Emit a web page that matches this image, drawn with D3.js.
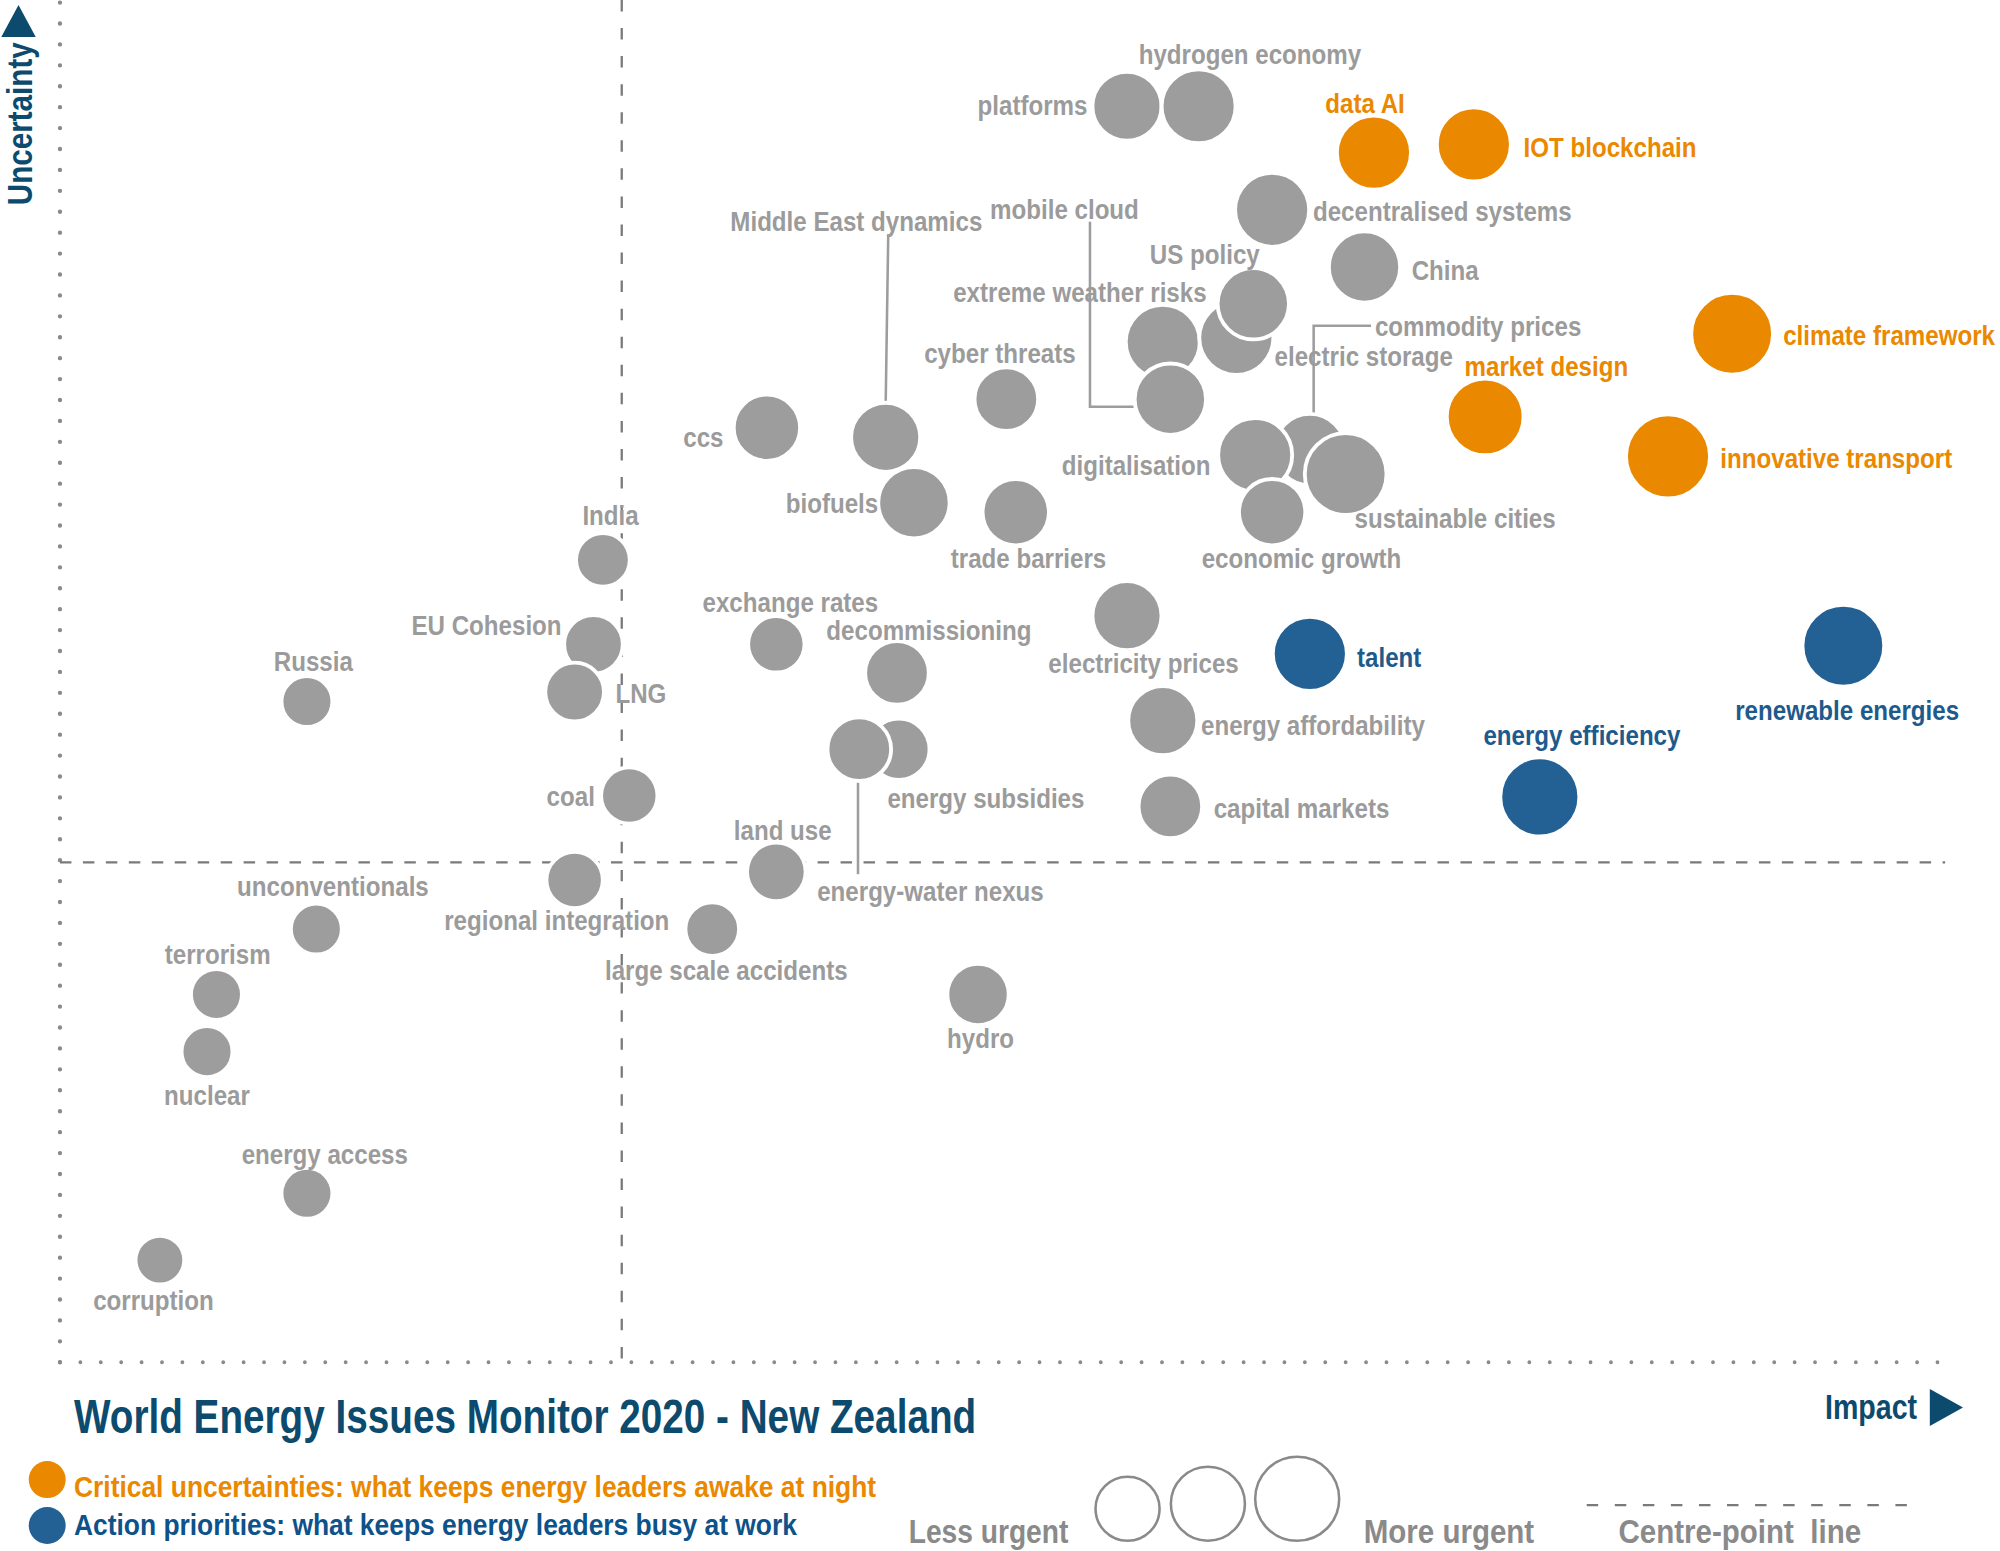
<!DOCTYPE html>
<html>
<head>
<meta charset="utf-8">
<script src="https://cdn.jsdelivr.net/npm/d3@7"></script>
<style>
  body { margin: 0; background: #fff; }
  svg { display: block; }
  text { font-family: "Liberation Sans", Arial, sans-serif; font-weight: bold; }
</style>
</head>
<body>
<div id="chart"></div>
<script>
// issues in drawing order (later ones sit on top)
const issues = [
  "corruption", "energy access", "nuclear", "terrorism", "unconventionals", "hydro",
  "large scale accidents", "regional integration", "land use", "coal", "capital markets",
  "energy subsidies", "energy-water nexus", "energy affordability", "Russia", "EU Cohesion",
  "LNG", "exchange rates", "decommissioning", "electricity prices", "India", "ccs",
  "Middle East dynamics", "biofuels", "trade barriers", "cyber threats", "commodity prices",
  "digitalisation", "sustainable cities", "economic growth", "extreme weather risks",
  "mobile cloud", "electric storage", "US policy", "China", "decentralised systems",
  "platforms", "hydrogen economy", "data AI", "IOT blockchain", "climate framework",
  "market design", "innovative transport", "talent", "renewable energies", "energy efficiency"
]
const impact = [
  5.3, 13.1, 7.8, 8.3, 13.6, 48.7,
  34.6, 27.3, 38.0, 30.2, 58.9,
  44.5, 42.4, 58.5, 13.1, 28.3,
  27.3, 38.0, 44.4, 56.6, 28.8, 37.5,
  43.8, 45.3, 50.7, 50.2, 66.3,
  63.4, 68.2, 64.3, 58.5,
  58.9, 62.4, 63.3, 69.2, 64.3,
  56.6, 60.4, 69.7, 75.0, 88.7,
  75.6, 85.3, 66.3, 94.6, 78.5
]
const uncertainty = [
  7.5, 12.4, 22.8, 27.0, 31.8, 27.0,
  31.8, 35.4, 36.0, 41.6, 40.8,
  45.0, 45.0, 47.1, 48.5, 52.7,
  49.2, 52.7, 50.6, 54.8, 58.9, 68.6,
  67.9, 63.1, 62.4, 70.7, 67.0,
  66.6, 65.2, 62.4, 74.9,
  70.7, 75.2, 77.7, 80.4, 84.6,
  92.2, 92.2, 88.8, 89.4, 75.5,
  69.4, 66.5, 52.0, 52.6, 41.5
]
const urgency = [
  1.6, 2.1, 2.1, 2.1, 2.1, 4.4,
  2.7, 3.3, 3.8, 3.3, 4.9,
  4.4, 4.9, 6.1, 2.1, 3.8,
  3.8, 3.3, 4.9, 6.1, 2.7, 5.5,
  6.1, 6.6, 5.5, 4.9, 6.6,
  7.2, 8.9, 5.5, 7.2,
  6.6, 7.2, 6.6, 6.6, 7.2,
  6.1, 7.2, 7.2, 7.2, 8.9,
  7.8, 9.4, 7.2, 8.9, 8.3
]
// u = critical uncertainty, p = action priority, n = other issue
const kind = [
  "n", "n", "n", "n", "n", "n",
  "n", "n", "n", "n", "n",
  "n", "n", "n", "n", "n",
  "n", "n", "n", "n", "n", "n",
  "n", "n", "n", "n", "n",
  "n", "n", "n", "n",
  "n", "n", "n", "n", "n",
  "n", "n", "u", "u", "u",
  "u", "u", "p", "p", "p"
]
const centrePoint = { impact: 29.8, uncertainty: 36.7 }

const legendItems = [
  { kind: "u", text: "Critical uncertainties: what keeps energy leaders awake at night" },
  { kind: "p", text: "Action priorities: what keeps energy leaders busy at work" }
]
const legendUrgency = [5.0, 7.2, 9.4]

// label placement relative to the bubble: anchor, dx, dy
const labelPos = {
  "data AI": ["middle", -7, -39], "IOT blockchain": ["start", 39, 2],
  "climate framework": ["start", 40, 1], "market design": ["middle", 48, -40],
  "innovative transport": ["start", 41, 1], "talent": ["start", 37, 2],
  "renewable energies": ["middle", 3, 50], "energy efficiency": ["middle", 33, -49],
  "platforms": ["end", -31, -1], "hydrogen economy": ["start", -47, -41],
  "decentralised systems": ["start", 32, 1], "China": ["start", 37, 2],
  "electric storage": ["start", 30, 14], "US policy": ["middle", -38, -39],
  "extreme weather risks": ["middle", -65, -39], "mobile cloud": ["middle", -83, -149],
  "cyber threats": ["middle", -5, -36], "ccs": ["end", -34, 7],
  "Middle East dynamics": ["middle", -23, -170], "biofuels": ["end", -28, 0],
  "trade barriers": ["middle", 10, 36], "commodity prices": ["start", 51, -97],
  "digitalisation": ["end", -35, 8], "sustainable cities": ["start", 7, 34],
  "economic growth": ["middle", 23, 36], "India": ["middle", 6, -35],
  "EU Cohesion": ["end", -25, -15], "LNG": ["start", 32, 1],
  "Russia": ["middle", 5, -32], "exchange rates": ["middle", 11, -33],
  "decommissioning": ["middle", 25, -34], "electricity prices": ["middle", 13, 37],
  "energy affordability": ["start", 30, 3], "energy subsidies": ["start", -9, 38],
  "energy-water nexus": ["start", -33, 111], "capital markets": ["start", 34, 1],
  "coal": ["end", -27, 0], "land use": ["middle", 5, -33],
  "regional integration": ["middle", -14, 31], "large scale accidents": ["middle", 11, 32],
  "unconventionals": ["middle", 13, -34], "terrorism": ["middle", 1, -32],
  "nuclear": ["middle", 0, 34], "hydro": ["middle", 2, 34],
  "energy access": ["middle", 14, -31], "corruption": ["middle", -5, 31]
}
// leader lines, offsets from the bubble centre
const leaders = {
  "Middle East dynamics": [[2, -158], [0, -26]],
  "mobile cloud": [[-63, -139], [-63, 6], [-26, 6]],
  "commodity prices": [[48, -97], [3, -97], [3, -17]],
  "energy-water nexus": [[-1, 25], [-1, 98]]
}

const W = 1568, H = 1216
const fill = { n: "#9d9d9d", u: "#ea8800", p: "#236093" }
const labelFill = { n: "#9b9b9b", u: "#ea8800", p: "#1f5a8c" }
const navy = "#0c4a6e"
const grey = "#8a8a8a"

const svg = d3.select("#chart").append("svg")
  .attr("width", 2000).attr("height", 1551)
  .attr("viewBox", `0 0 ${W} ${H}`)

const x = d3.scaleLinear().domain([0, 100]).range([47, 1525])
const y = d3.scaleLinear().domain([0, 100]).range([1068, 0])
const r = d3.scaleLinear().domain([1, 10]).range([18, 34])

const data = issues.map((name, i) => ({
  name, impact: impact[i], uncertainty: uncertainty[i], urgency: urgency[i], kind: kind[i]
}))

// no narrow font installed, so squeeze the sans horizontally
function label(parent, tx, ty, str, size, color, anchor = "start", squeeze = 0.86, rot = 0) {
  return parent.append("text")
    .attr("transform", `translate(${tx},${ty}) rotate(${rot}) scale(${squeeze},1)`)
    .attr("dy", "0.36em")
    .attr("text-anchor", anchor)
    .attr("font-size", size)
    .attr("fill", color)
    .text(str)
}

// dotted axes
svg.append("line")
  .attr("x1", x(0)).attr("x2", x(0)).attr("y1", y(0)).attr("y2", y(100))
  .attr("stroke", grey).attr("stroke-width", 3.4)
  .attr("stroke-linecap", "round").attr("stroke-dasharray", "0,16.4")
svg.append("line")
  .attr("x1", x(0)).attr("x2", x(100)).attr("y1", y(0)).attr("y2", y(0))
  .attr("stroke", grey).attr("stroke-width", 3)
  .attr("stroke-linecap", "round").attr("stroke-dasharray", "0,16")

// centre-point lines
svg.append("line")
  .attr("x1", x(centrePoint.impact)).attr("x2", x(centrePoint.impact))
  .attr("y1", y(100)).attr("y2", y(0))
  .attr("stroke", "#7a7a7a").attr("stroke-width", 1.8).attr("stroke-dasharray", "9,13")
svg.append("line")
  .attr("x1", x(0)).attr("x2", x(100))
  .attr("y1", y(centrePoint.uncertainty)).attr("y2", y(centrePoint.uncertainty))
  .attr("stroke", "#7a7a7a").attr("stroke-width", 1.8).attr("stroke-dasharray", "9,9")

// axis arrows + titles
svg.append("path").attr("d", "M1,29 L14.5,4 L28,29 Z").attr("fill", navy)
label(svg, 15, 97, "Uncertainty", 27, navy, "middle", 0.86, -90)
svg.append("path").attr("d", "M1513,1089 L1539,1103.5 L1513,1118 Z").attr("fill", navy)
label(svg, 1503, 1103, "Impact", 27, navy, "end", 0.83)

// leader lines
const line = d3.line()
svg.append("g").selectAll("path")
  .data(data.filter(d => leaders[d.name]))
  .join("path")
  .attr("d", d => line(leaders[d.name].map(p => [x(d.impact) + p[0], y(d.uncertainty) + p[1]])))
  .attr("fill", "none").attr("stroke", "#9d9d9d").attr("stroke-width", 2)

// bubbles
svg.append("g").selectAll("circle")
  .data(data)
  .join("circle")
  .attr("cx", d => x(d.impact))
  .attr("cy", d => y(d.uncertainty))
  .attr("r", d => r(d.urgency))
  .attr("fill", d => fill[d.kind])
  .attr("stroke", "#fff").attr("stroke-width", 3)

// labels
const labels = svg.append("g")
data.forEach(d => {
  const [anchor, dx, dy] = labelPos[d.name]
  label(labels, x(d.impact) + dx, y(d.uncertainty) + dy, d.name, 22, labelFill[d.kind], anchor)
})

// title
label(svg, 58, 1110, "World Energy Issues Monitor 2020 - New Zealand", 37, navy, "start", 0.82)

// colour legend
const leg = svg.append("g")
const legendTextY = [1165, 1195]
legendItems.forEach((d, i) => {
  leg.append("circle").attr("cx", 37).attr("cy", 1160 + i * 36).attr("r", 14.5).attr("fill", fill[d.kind])
  label(leg, 58, legendTextY[i], d.text, 23, d.kind === "u" ? "#ea8800" : "#0d5289", "start", 0.9)
})

// urgency legend
const sizeX = [884, 947, 1017]
svg.append("g").selectAll("circle")
  .data(legendUrgency)
  .join("circle")
  .attr("cx", (d, i) => sizeX[i])
  .attr("cy", d => 1208 - r(d))
  .attr("r", d => r(d))
  .attr("fill", "none").attr("stroke", grey).attr("stroke-width", 2)
label(svg, 775, 1200, "Less urgent", 26, grey, "middle", 0.85)
label(svg, 1136, 1200, "More urgent", 26, grey, "middle", 0.89)
svg.append("line")
  .attr("x1", 1244).attr("x2", 1502).attr("y1", 1180).attr("y2", 1180)
  .attr("stroke", "#7a7a7a").attr("stroke-width", 1.8).attr("stroke-dasharray", "9,13")
label(svg, 1364, 1200, "Centre-point  line", 26, grey, "middle", 0.89)
  .attr("xml:space", "preserve")
</script>
</body>
</html>
